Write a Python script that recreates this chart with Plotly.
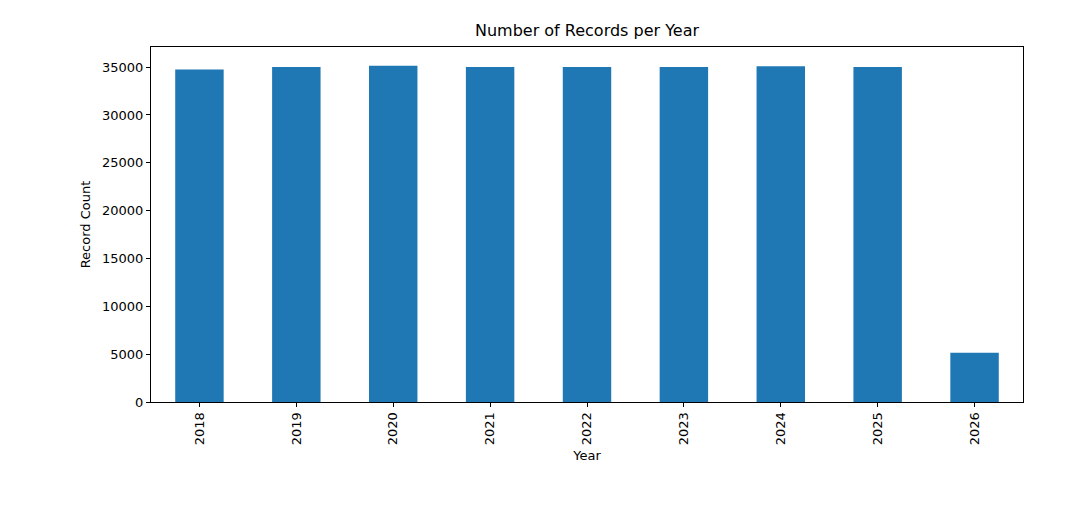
import plotly.graph_objects as go

years = ["2018", "2019", "2020", "2021", "2022", "2023", "2024", "2025", "2026"]
counts = [34750, 35000, 35150, 35000, 35000, 35000, 35100, 35000, 5150]
y_ticks = [0, 5000, 10000, 15000, 20000, 25000, 30000, 35000]

fig = go.Figure(go.Bar(x=years, y=counts, marker_color="#1f77b4",
                       marker_line_width=0, width=0.5))

axis_common = dict(showline=True, linecolor="black", linewidth=1, mirror=True,
                   showgrid=False, ticks="outside", ticklen=4, tickcolor="black",
                   zeroline=False, tickfont=dict(size=13))

fig.update_layout(
    width=1088, height=518,
    margin=dict(l=143, r=73, t=39, b=124),
    plot_bgcolor="white", paper_bgcolor="white",
    font=dict(family="DejaVu Sans", size=13, color="black"),
    title=dict(text="Number of Records per Year", x=0.5, xanchor="center",
               xref="paper", y=0.945, yanchor="bottom", font=dict(size=16)),
    xaxis=dict(title=dict(text="Year", standoff=6, font=dict(size=13)),
               tickangle=-90, range=[-0.5, 8.5], **axis_common),
    yaxis=dict(title=dict(text="Record Count", standoff=8, font=dict(size=13)),
               range=[0, 37100], tickvals=y_ticks, tickformat="d", **axis_common),
    showlegend=False,
)

fig.write_html("out.html")
